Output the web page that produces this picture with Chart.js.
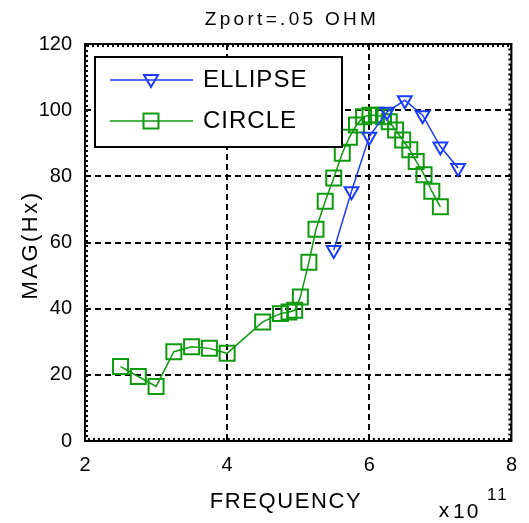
<!DOCTYPE html>
<html><head><meta charset="utf-8">
<script src="https://cdn.jsdelivr.net/npm/chart.js@4/dist/chart.umd.min.js"></script>
<style>html,body{margin:0;padding:0;background:#fff;}#wrap{width:529px;height:523px;}</style>
</head><body><div id="wrap"><canvas id="c" width="529" height="523"></canvas></div>
<script>
// ---- data ----
const ellipseX = [5.5, 5.75, 6.0, 6.25, 6.5, 6.75, 7.0, 7.25];
const ellipseY = [57.7, 75.5, 92, 99.5, 103, 98.5, 89, 82.5];
const circleX = [2.5, 2.75, 3.0, 3.25, 3.5, 3.75, 4.0, 4.5, 4.75, 4.87, 4.95, 5.03, 5.15, 5.25, 5.38, 5.5, 5.62, 5.72, 5.82, 5.92, 6.01, 6.1, 6.2, 6.28, 6.37, 6.47, 6.57, 6.66, 6.77, 6.88, 7.0];
const circleY = [22.5, 19.5, 16.5, 27, 28.5, 28, 26.5, 36, 38.5, 39, 39.5, 43.5, 54, 64, 72.5, 79.5, 87, 91.8, 95.5, 98, 98.5, 98.5, 98, 96.5, 94, 91, 88, 84.5, 80.5, 75.5, 70.8];
const xTicks = [2, 4, 6, 8];
const yTicks = [0, 20, 40, 60, 80, 100, 120];
const seriesNames = ['ELLIPSE', 'CIRCLE'];
const titleText = 'Zport=.05 OHM';
const xLabel = 'FREQUENCY';
const yLabel = 'MAG(Hx)';

const FONT = '"Liberation Sans", Arial, sans-serif';
const BLUE = '#1a3cff';
const GREEN = '#0e9a0e';

const toPts = (xs, ys) => xs.map((x, i) => ({x, y: ys[i]}));

function txt(ctx, s, x, y, size, ls, align, base) {
  ctx.save();
  ctx.font = size + 'px ' + FONT;
  ctx.fillStyle = '#000';
  ctx.textAlign = align || 'center';
  ctx.textBaseline = base || 'alphabetic';
  try { ctx.letterSpacing = (ls || 0) + 'px'; } catch (e) {}
  ctx.fillText(s, x, y);
  ctx.restore();
}

function marker(ctx, type, x, y, color) {
  ctx.save();
  ctx.strokeStyle = color; ctx.lineWidth = 2;
  ctx.beginPath();
  if (type === 'rect') {
    ctx.rect(x - 7.5, y - 7.5, 15, 15);
  } else {
    ctx.moveTo(x - 7, y - 5); ctx.lineTo(x + 7, y - 5); ctx.lineTo(x, y + 7); ctx.closePath();
  }
  ctx.stroke();
  ctx.restore();
}

const deco = {
  id: 'deco',
  afterDraw(chart) {
    const ctx = chart.ctx, a = chart.chartArea;
    // frame
    ctx.save();
    ctx.strokeStyle = '#000'; ctx.lineWidth = 2;
    ctx.strokeRect(a.left, a.top, a.right - a.left, a.bottom - a.top);
    ctx.lineWidth = 2; ctx.setLineDash([2, 3]);
    ctx.strokeRect(a.left + 2, a.top + 2, a.right - a.left - 4, a.bottom - a.top - 4);
    ctx.restore();
    // legend
    const lx = 95, ly = 57, lw = 247, lh = 90;
    ctx.save();
    ctx.fillStyle = '#fff'; ctx.fillRect(lx, ly, lw, lh);
    ctx.strokeStyle = '#000'; ctx.lineWidth = 2; ctx.strokeRect(lx, ly, lw, lh);
    ctx.restore();
    const ds = chart.data.datasets;
    const rows = [80, 121];
    ds.forEach((d, i) => {
      ctx.save();
      ctx.strokeStyle = d.borderColor; ctx.lineWidth = 1.5;
      ctx.beginPath(); ctx.moveTo(110, rows[i]); ctx.lineTo(193, rows[i]); ctx.stroke();
      ctx.restore();
      marker(ctx, d.pointStyle, 151, rows[i], d.borderColor);
      txt(ctx, d.label, 203, rows[i], 24, 1, 'left', 'middle');
    });
    // titles
    txt(ctx, titleText, 292, 25, 19, 3.3);
    txt(ctx, xLabel, 286, 508, 22, 1.6);
    ctx.save();
    ctx.translate(31, 245); ctx.rotate(-Math.PI / 2);
    txt(ctx, yLabel, 0, 0, 22, 2.5, 'center', 'middle');
    ctx.restore();
    txt(ctx, 'x', 444, 517, 21, 0);
    txt(ctx, '10', 453, 518, 21, 2, 'left');
    txt(ctx, '11', 487, 500, 17, 2, 'left');
  }
};

new Chart(document.getElementById('c'), {
  type: 'line',
  data: {
    datasets: [
      { label: seriesNames[0], data: toPts(ellipseX, ellipseY), borderColor: BLUE, backgroundColor: 'transparent',
        borderWidth: 1.5, pointStyle: 'triangle', pointRotation: 180, pointRadius: 8, pointBorderWidth: 2,
        pointBackgroundColor: 'transparent', pointBorderColor: BLUE, tension: 0, fill: false },
      { label: seriesNames[1], data: toPts(circleX, circleY), borderColor: GREEN, backgroundColor: 'transparent',
        borderWidth: 1.5, pointStyle: 'rect', pointRadius: 10.6, pointBorderWidth: 2,
        pointBackgroundColor: 'transparent', pointBorderColor: GREEN, tension: 0, fill: false }
    ]
  },
  options: {
    responsive: false, animation: false, devicePixelRatio: 1,
    layout: { padding: { left: 0, right: 13, top: 44, bottom: 0 } },
    plugins: { legend: { display: false }, title: { display: false }, tooltip: { enabled: false } },
    scales: {
      x: {
        type: 'linear', min: 2, max: 8,
        afterBuildTicks: s => { s.ticks = xTicks.map(v => ({value: v})); },
        afterFit: s => { s.height = 82; },
        grid: { color: '#000', lineWidth: 2, drawTicks: false },
        border: { display: false, dash: [6, 4] },
        ticks: { color: '#000', padding: 12, font: { family: FONT, size: 20 }, maxRotation: 0 }
      },
      y: {
        type: 'linear', min: 0, max: 120,
        afterBuildTicks: s => { s.ticks = yTicks.map(v => ({value: v})); },
        afterFit: s => { s.width = 85; },
        grid: { color: '#000', lineWidth: 2, drawTicks: false },
        border: { display: false, dash: [6, 4] },
        ticks: { color: '#000', padding: 13, font: { family: FONT, size: 20 } }
      }
    }
  },
  plugins: [deco]
});
</script>
</body></html>
